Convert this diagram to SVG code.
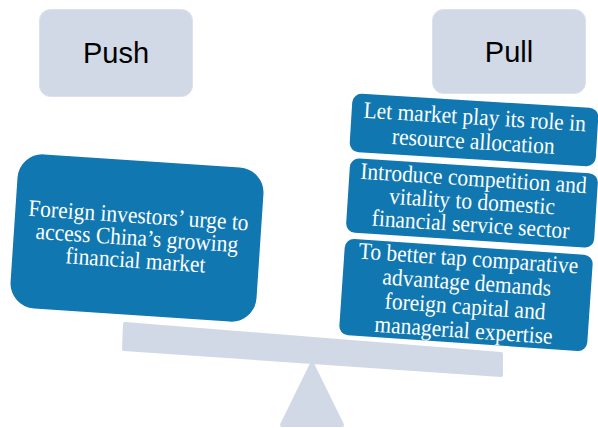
<svg xmlns="http://www.w3.org/2000/svg" width="598" height="428" viewBox="0 0 598 428">
<defs>
<style>
.gray{fill:#d0d9e5;stroke:#dbe2ec;stroke-width:1}
.lbl{font-family:"Liberation Sans",Arial,sans-serif;font-size:29px;fill:#000;text-anchor:middle}
.blue{fill:#1077b0;stroke:#ffffff;stroke-width:1.5}
.txt{font-family:"Liberation Serif","Times New Roman",serif;font-size:21.5px;fill:#ffffff;text-anchor:middle}
.base{fill:#d0d9e5;stroke:#d0d9e5;stroke-width:4;stroke-linejoin:round}
</style>
</defs>
<g id="fulcrum">
<polygon class="base" points="312,364 282,425 342,425"/>
</g>
<g id="beam">
<polygon class="base" points="125,324 501,354 501,375 124,349"/>
</g>
<g id="push">
<rect class="gray" x="39.5" y="9.5" width="153" height="87" rx="11"/>
<text class="lbl" x="116" y="63">Push</text>
</g>
<g id="pull">
<rect class="gray" x="432.5" y="9.5" width="153" height="84" rx="11"/>
<text class="lbl" x="509" y="62">Pull</text>
</g>
<g id="push-reason" transform="translate(137,238) rotate(3.8)">
<rect class="blue" x="-124" y="-78" width="248" height="156" rx="26"/>
<text class="txt" transform="scale(1 1.1)"><tspan x="0" y="-13.6">Foreign investors’ urge to</tspan><tspan x="0" y="6.8">access China’s growing</tspan><tspan x="0" y="27.3">financial market</tspan></text>
</g>
<g id="pull-1" transform="translate(474,130) rotate(3.5)">
<rect class="blue" x="-124" y="-30" width="248" height="60" rx="10"/>
<text class="txt" transform="scale(1 1.1)"><tspan x="0" y="-5">Let market play its role in</tspan><tspan x="0" y="17.3">resource allocation</tspan></text>
</g>
<g id="pull-2" transform="translate(472,203) rotate(3.7)">
<rect class="blue" x="-125" y="-38" width="250" height="76" rx="10"/>
<text class="txt" transform="scale(1 1.1)"><tspan x="0" y="-15.5">Introduce competition and</tspan><tspan x="0" y="5.5">vitality to domestic</tspan><tspan x="0" y="26.4">financial service sector</tspan></text>
</g>
<g id="pull-3" transform="translate(466,295) rotate(3.9)">
<rect class="blue" x="-125" y="-49" width="250" height="98" rx="10"/>
<text class="txt" transform="scale(1 1.1)"><tspan x="0" y="-26.4">To better tap comparative</tspan><tspan x="0" y="-4.5">advantage demands</tspan><tspan x="0" y="17.3">foreign capital and</tspan><tspan x="0" y="39.1">managerial expertise</tspan></text>
</g>
<g id="connectors"></g>
</svg>
